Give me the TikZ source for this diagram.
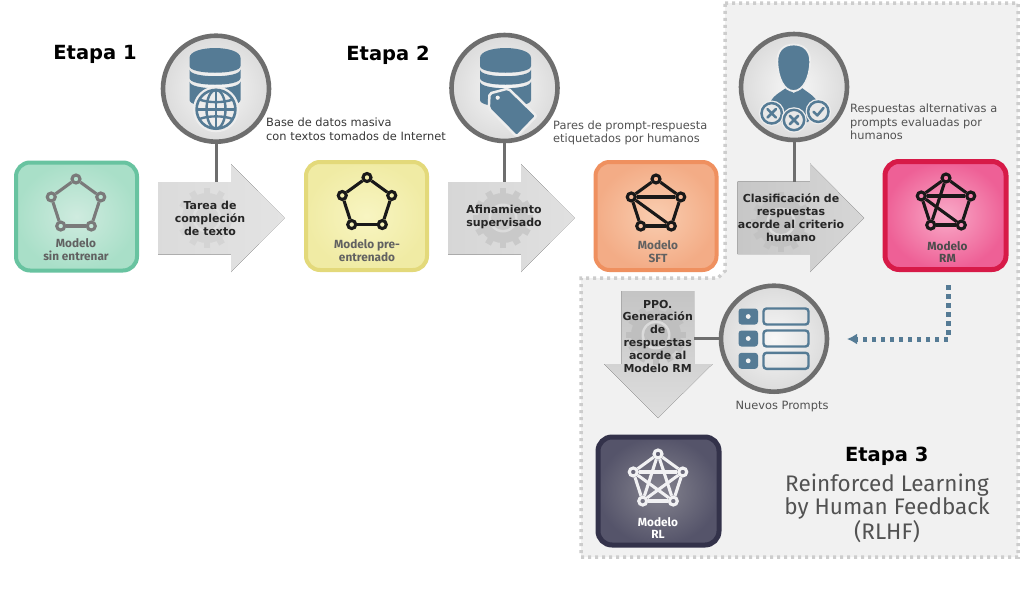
\documentclass[tikz,border=0pt]{standalone}
\usepackage{fontspec}
\setmainfont{DejaVu Sans}
\newfontfamily\din{Fira Sans}
\usetikzlibrary{arrows.meta}
\definecolor{iconblue}{HTML}{557B95}
\definecolor{ringgray}{HTML}{6E6E6E}
\definecolor{panelgray}{HTML}{F1F1F1}
\definecolor{dotgray}{HTML}{CDCDCD}
\definecolor{greenB}{HTML}{68C3A0}\definecolor{greenI}{HTML}{CFEBDF}\definecolor{greenO}{HTML}{A9DFC8}
\definecolor{yellowB}{HTML}{E3D97A}\definecolor{yellowI}{HTML}{F8F5C2}\definecolor{yellowO}{HTML}{F0EBA4}
\definecolor{orangeB}{HTML}{EF905F}\definecolor{orangeI}{HTML}{F9CDB0}\definecolor{orangeO}{HTML}{F3AC86}
\definecolor{pinkB}{HTML}{D71A48}\definecolor{pinkI}{HTML}{F9AAC8}\definecolor{pinkO}{HTML}{EE6096}
\definecolor{darkB}{HTML}{33324A}\definecolor{darkI}{HTML}{85848F}\definecolor{darkO}{HTML}{55546A}
\tikzset{
  x=1pt,y=-1pt,
  modelbox/.style={rectangle,rounded corners=14pt,line width=4pt,minimum width=121pt,minimum height=108pt,inner sep=0pt,shading=radial},
  ring/.style={circle,draw=ringgray,line width=4.6pt,minimum size=106pt,inner sep=0pt,shading=radial,inner color=black!3,outer color=black!14},
  link/.style={draw=ringgray,line width=3pt},
  vertex/.style={circle,minimum size=8pt,inner sep=0pt,line width=3.1pt},
  caption/.style={font=\fontsize{11.4}{13.5}\selectfont,text=black!68,align=left,anchor=north west,inner sep=0pt},
  stage/.style={font=\fontsize{19.5}{23}\selectfont\bfseries,text=black,inner sep=0pt},
  task/.style={font=\fontsize{11}{13}\selectfont\bfseries,text=black!85,align=center,inner sep=0pt},
  modeltext/.style={font=\din\fontsize{11.8}{12.8}\selectfont\bfseries,align=center,inner sep=0pt},
  disk/.style={fill=iconblue,draw=none},
}
\newcommand{\netfive}[6]{%
  \foreach \i in {0,...,4}{
    \node[vertex,draw=#5] (#1\i) at ({#2+#4*sin(72*\i)},{#3-#4*cos(72*\i)}) {};
  }
  \foreach \a/\b in {#6}{\draw[#5,line width=3.1pt] (#1\a) -- (#1\b);}
}
\newcommand{\cogmark}[4]{%
  \begin{scope}[shift={(#1,#2)}]
    \foreach \t in {0,30,...,330}{
      \fill[#3,rotate=\t] (-3.2,-30) rectangle (3.2,0);
    }
    \fill[#3] (0,0) circle (25);
    \fill[#4] (0,0) circle (14.5);
    \fill[#3] (0,0) circle (12);
  \end{scope}
}
\newcommand{\dbstack}[2]{%
  \begin{scope}[shift={(#1,#2)}]
    \fill[disk] (-25.5,10) .. controls (-25.5,-3.3) and (25.5,-3.3) .. (25.5,10)
       -- (25.5,18) .. controls (25.5,27) and (-25.5,27) .. (-25.5,18) -- cycle;
    \fill[disk] (-25.5,21.5) .. controls (-25.5,30.5) and (25.5,30.5) .. (25.5,21.5)
       -- (25.5,30) .. controls (25.5,39) and (-25.5,39) .. (-25.5,30) -- cycle;
    \fill[disk] (-25.5,33.5) .. controls (-25.5,42.5) and (25.5,42.5) .. (25.5,33.5)
       -- (25.5,52) .. controls (25.5,61) and (-25.5,61) .. (-25.5,52) -- cycle;
  \end{scope}
}
\newcommand{\badge}[3]{%
  \fill[black!7] (#1,#2) circle (12.8);
  \draw[iconblue,line width=2.5pt,fill=black!9] (#1,#2) circle (10.2);
  \ifnum#3=0
    \draw[iconblue,line width=2.6pt,line cap=round] (#1-4.2,#2-4.2) -- (#1+4.2,#2+4.2) (#1-4.2,#2+4.2) -- (#1+4.2,#2-4.2);
  \else
    \draw[iconblue,line width=2.6pt,line cap=round,line join=round] (#1-4.8,#2) -- (#1-1,#2+3.7) -- (#1+5.2,#2-3.7);
  \fi
}
\begin{document}
\begin{tikzpicture}
\useasboundingbox (0,0) rectangle (1024,603);
\fill[white] (0,0) rectangle (1024,603);

% panel of stage 3
\draw[dotgray,fill=panelgray,line width=3.5pt,dash pattern=on 3pt off 4pt]
  (725,3) -- (1018,3) -- (1018,557) -- (581,557) -- (581,278) -- (718,278) -- (725,271) -- cycle;

% arrows
\fill[left color=black!14,right color=black!11] (158,182) -- (231,182) -- (231,164) -- (284.5,218) -- (231,272) -- (231,254.5) -- (158,254.5) -- cycle;
\fill[left color=black!16,right color=black!12] (448,182) -- (521,182) -- (521,164) -- (574.5,218) -- (521,272) -- (521,254.5) -- (448,254.5) -- cycle;
\fill[left color=black!22,right color=black!16] (737.5,181.5) -- (810,181.5) -- (810,163.5) -- (864,218) -- (810,272) -- (810,254) -- (737.5,254) -- cycle;
\fill[top color=black!23,bottom color=black!13] (621.5,291) -- (694,291) -- (694,364) -- (712.5,364) -- (658,418) -- (604,364) -- (621.5,364) -- cycle;

\begin{scope}
  \clip (158,182) rectangle (284,254);
  \cogmark{207}{218}{black!17}{black!13}
\end{scope}
\begin{scope}
  \clip (448,182) rectangle (574,254);
  \cogmark{503}{218}{black!21}{black!14}
\end{scope}
\begin{scope}
  \clip (737.5,181.5) rectangle (864,254);
  \cogmark{781}{222}{black!24}{black!15}
\end{scope}
\begin{scope}
  \clip (621.5,291) rectangle (694,364);
  \cogmark{656}{335}{black!25}{black!14}
\end{scope}

% model boxes
\node[modelbox,draw=greenB,inner color=greenI,outer color=greenO] (m1) at (76.5,216.5) {};
\node[modelbox,draw=yellowB,inner color=yellowI,outer color=yellowO] (m2) at (366.5,216) {};
\node[modelbox,draw=orangeB,inner color=orangeI,outer color=orangeO] (m3) at (656,216) {};
\node[modelbox,draw=pinkB,line width=5pt,inner color=pinkI,outer color=pinkO] (m4) at (945.5,215.5) {};
\node[modelbox,draw=darkB,line width=5pt,inner color=darkI,outer color=darkO] (m5) at (658.5,491) {};

% pentagons
\netfive{ga}{76}{205}{26}{black!52}{0/1,1/2,2/3,3/4,4/0}
\netfive{ya}{367}{203.5}{26}{black!90}{0/1,1/2,2/3,3/4,4/0}
\netfive{oa}{656}{205}{26}{black!90}{0/1,1/2,2/3,3/4,4/0,4/1,4/2}
\netfive{pa}{946}{204}{26}{black!90}{0/1,1/2,2/3,3/4,4/0,4/1,4/2,0/3}
\netfive{da}{658}{480}{26}{white!92!darkO}{0/1,1/2,2/3,3/4,4/0,4/1,4/2,0/3,0/2,1/3}

% model labels
\node[modeltext,text=black!62] (t1) at (76,249.5) {Modelo\\sin entrenar};
\node[modeltext,text=black!62] (t2) at (367,250.5) {Modelo pre-\\entrenado};
\node[modeltext,text=black!62] (t3) at (658,251.5) {Modelo\\SFT};
\node[modeltext,text=black!70] (t4) at (947.5,252) {Modelo\\RM};
\node[modeltext,text=white] (t5) at (658,528) {Modelo\\RL};

% rings
\node[ring] (c1) at (216,88.7) {};
\node[ring] (c2) at (504.5,88) {};
\node[ring] (c3) at (794,87) {};
\node[ring] (c4) at (774,338.7) {};

% connectors from rings to arrows
\coordinate (a1) at (216,182);
\coordinate (a2) at (504.5,182);
\coordinate (a3) at (794,181.5);
\coordinate (a4) at (694,338.7);
\draw[link] (c1) -- (a1);
\draw[link] (c2) -- (a2);
\draw[link] (c3) -- (a3);
\draw[link] (c4) -- (a4);

% database + globe
\dbstack{215}{48}
\fill[black!7] (216,109.3) circle (23);
\draw[iconblue,line width=2.6pt] (216,109.3) circle (19.4);
\draw[iconblue,line width=2.4pt] (216,109.3) ellipse (9.5 and 19.4);
\draw[iconblue,line width=2.4pt] (216,89.9) -- (216,128.7) (196.6,109.3) -- (235.4,109.3);
\draw[iconblue,line width=2.4pt] (199.5,99.5) .. controls (208,103) and (224,103) .. (232.5,99.5);
\draw[iconblue,line width=2.4pt] (199.5,119) .. controls (208,115.5) and (224,115.5) .. (232.5,119);

% database + tag
\dbstack{505.5}{48}
\draw[fill=iconblue,draw=black!7,line width=2.5pt,rounded corners=2pt]
  (489.5,93.5) -- (508.3,88.5) -- (536.5,116) -- (516.7,136.5) -- (488.8,108.5) -- cycle;
\fill[black!5] (497.7,97.7) circle (2.1);

% person
\fill[iconblue] (769,110) .. controls (769,98) and (776,95) .. (786,88) -- (793.7,93) -- (802,88)
   .. controls (811,95) and (819,98) .. (819,110) -- (808,122) -- (780,122) -- cycle;
\draw[fill=iconblue,draw=black!7,line width=1.8pt] (793.7,44.5)
   .. controls (783,44.5) and (777,51) .. (777.3,62)
   .. controls (777.8,78) and (784,91) .. (793.7,91)
   .. controls (803,91) and (809.8,78) .. (810.2,62)
   .. controls (810.5,51) and (804,44.5) .. (793.7,44.5) -- cycle;
\badge{771.7}{113.3}{0}
\badge{818.3}{111.7}{1}
\badge{794}{120}{0}

% list
\foreach \yy in {308.5,330.5,352.8}{
  \fill[iconblue,rounded corners=3pt] (738.5,\yy) rectangle (758,\yy+16);
  \fill[black!5] (748.2,\yy+8) circle (2.4);
  \draw[iconblue,line width=2.4pt,rounded corners=3pt] (763.5,\yy) rectangle (808.5,\yy+16);
}

% dotted feedback
\coordinate (fbstart) at (948,285);
\coordinate (fbend) at (847,339);
\draw[iconblue,line width=5pt,dash pattern=on 4.5pt off 4.5pt,-{Latex[length=10pt,width=11pt]}] (fbstart) |- (fbend);

% stage labels
\node[stage] (s1) at (95,54.5) {Etapa 1};
\node[stage] (s2) at (388,55.5) {Etapa 2};
\node[stage] (s3) at (886.7,456) {Etapa 3};

% captions
\node[caption,text=black!78] (k1) at (266,118) {Base de datos masiva\\con textos tomados de Internet};
\node[caption] (k2) at (553,120.5) {Pares de prompt-respuesta\\etiquetados por humanos};
\node[caption] (k3) at (850,104) {Respuestas alternativas a\\prompts evaluadas por\\humanos};
\node[caption,anchor=center] (k4) at (782,406.5) {Nuevos Prompts};

% task labels
\node[task] (w1) at (210,218.5) {Tarea de\\compleción\\de texto};
\node[task] (w2) at (504,216.5) {Afinamiento\\supervisado};
\node[task] (w3) at (791,217.5) {Clasificación de\\respuestas\\acorde al criterio\\humano};
\node[task,font=\fontsize{11}{12.8}\selectfont\bfseries] (w4) at (657.7,336) {PPO.\\Generación\\de\\respuestas\\acorde al\\Modelo RM};

% title
\node[font=\din\fontsize{22.5}{23.4}\selectfont,text=black!68,align=center,inner sep=0pt] (title) at (887,508) {Reinforced Learning\\by Human Feedback\\(RLHF)};
\end{tikzpicture}
\end{document}
